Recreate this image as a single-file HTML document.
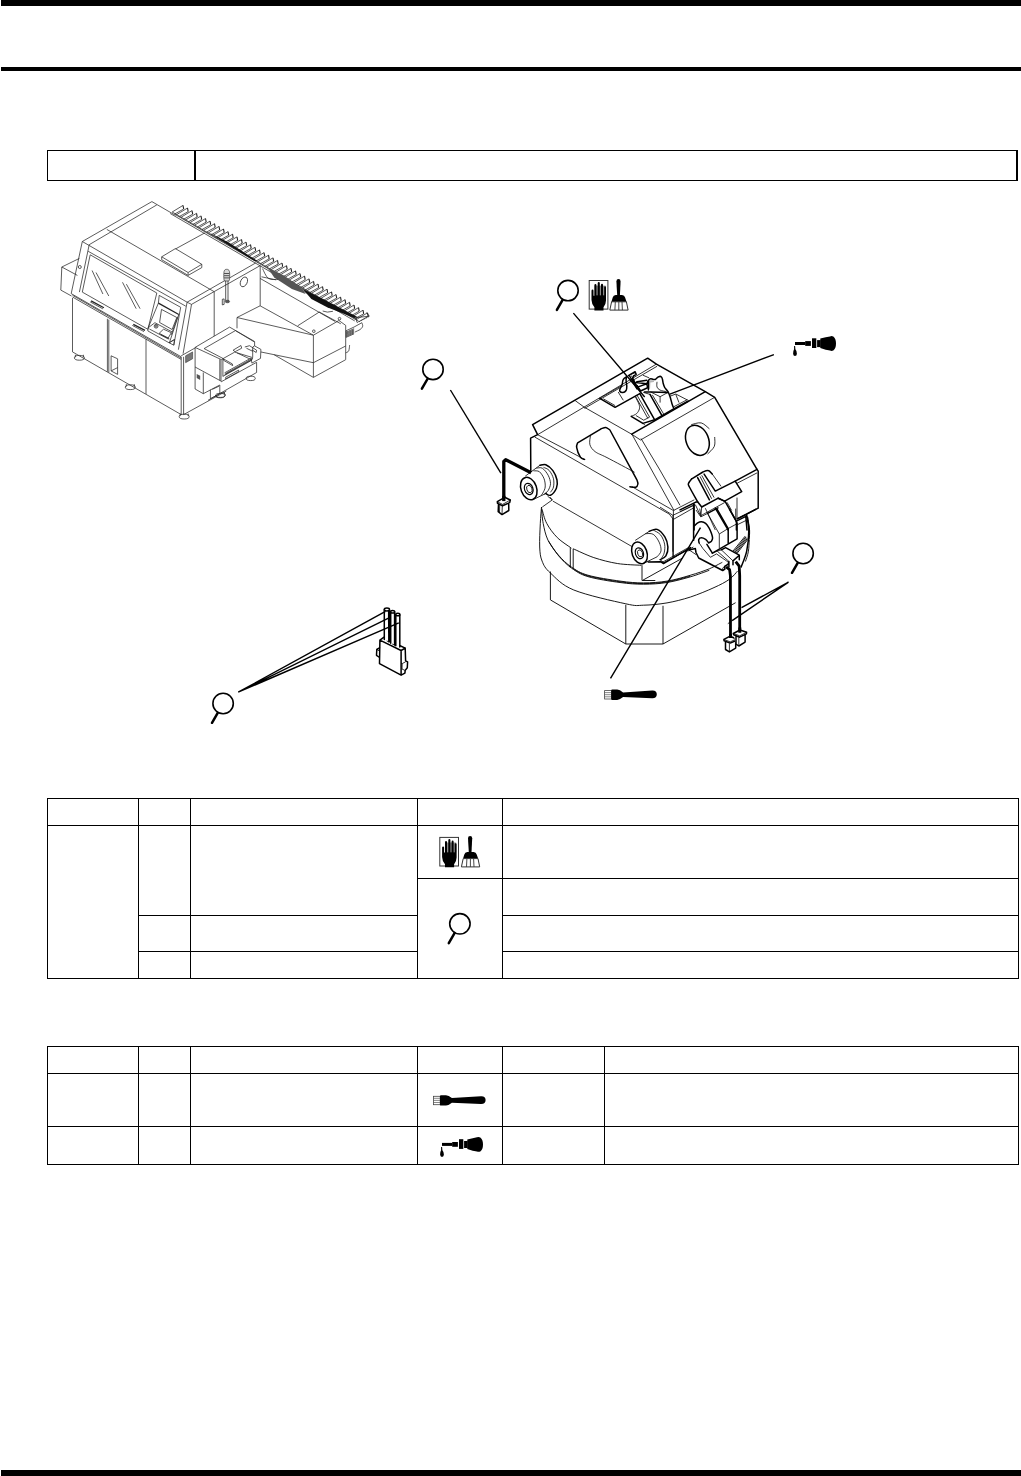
<!DOCTYPE html>
<html>
<head>
<meta charset="utf-8">
<title>Maintenance page</title>
<style>
html,body{margin:0;padding:0;background:#fff;}
body{width:1021px;height:1476px;position:relative;overflow:hidden;font-family:"Liberation Sans",sans-serif;}
svg{position:absolute;left:0;top:0;}
.k{stroke:#000;stroke-width:1.5;fill:none;stroke-linejoin:round;stroke-linecap:round}
.n{stroke:#000;stroke-width:0.8;fill:none;stroke-linejoin:round}
.g{stroke:#000;stroke-width:0.9;fill:none}
.l{stroke:#000;stroke-width:1.4;fill:none}
.m{stroke:#262626;stroke-width:0.75;fill:none}
.md{stroke:#222;stroke-width:0.75;fill:none}
.mk{stroke:#222;stroke-width:1.3;fill:none}
</style>
</head>
<body>
<svg width="1021" height="1476" viewBox="0 0 1021 1476">
<!-- page rules -->
<g shape-rendering="crispEdges" fill="#000">
<rect x="1" y="0" width="1020" height="6"/>
<rect x="1" y="67" width="1020" height="4"/>
<rect x="1" y="1470" width="1020" height="6"/>
</g>
<!-- title box -->
<g shape-rendering="crispEdges" fill="#000">
<rect x="47" y="150" width="971" height="1"/>
<rect x="47" y="180" width="971" height="1"/>
<rect x="47" y="150" width="1" height="31"/>
<rect x="194" y="150" width="2" height="31"/>
<rect x="1016" y="150" width="2" height="31"/>
</g>
<!-- table 1 -->
<g shape-rendering="crispEdges" fill="#000">
<rect x="47" y="798" width="972" height="1"/>
<rect x="47" y="825" width="972" height="1"/>
<rect x="417" y="878" width="602" height="1"/>
<rect x="138" y="915" width="280" height="1"/>
<rect x="502" y="915" width="517" height="1"/>
<rect x="138" y="951" width="280" height="1"/>
<rect x="502" y="951" width="517" height="1"/>
<rect x="47" y="978" width="972" height="1"/>
<rect x="47" y="798" width="1" height="181"/>
<rect x="138" y="798" width="1" height="181"/>
<rect x="190" y="798" width="1" height="181"/>
<rect x="417" y="798" width="1" height="181"/>
<rect x="502" y="798" width="1" height="181"/>
<rect x="1018" y="798" width="1" height="181"/>
</g>
<!-- table 2 -->
<g shape-rendering="crispEdges" fill="#000">
<rect x="47" y="1046" width="972" height="1"/>
<rect x="47" y="1073" width="972" height="1"/>
<rect x="47" y="1126" width="972" height="1"/>
<rect x="47" y="1164" width="972" height="1"/>
<rect x="47" y="1046" width="1" height="119"/>
<rect x="138" y="1046" width="1" height="119"/>
<rect x="190" y="1046" width="1" height="119"/>
<rect x="417" y="1046" width="1" height="119"/>
<rect x="502" y="1046" width="1" height="119"/>
<rect x="604" y="1046" width="1" height="119"/>
<rect x="1018" y="1046" width="1" height="119"/>
</g>
<path class="m" d="M175.4 215.3 L151.9 201.6 L82.3 241.5 L71.2 293.6 M156.8 204.9 L89.2 244.7 L79.4 292.1 M82.3 241.5 L187.1 302.2 L178.4 349.7 M88.2 251.3 L185.8 306.2 M191.5 304.4 L183.1 353.7 M187.1 302.2 L191.5 304.4 M106.8 229.4 L214.2 291.7 M187.1 302.2 L255.8 262.9 M191.5 304.4 L260.2 265.6 M90.2 254.8 L156.8 293 L147.9 329.3 L82.3 292.1Z M92.1 270.5 L102.9 294 M96 272.5 L108.8 296 M122.5 282.3 L136.2 308.7 M126.4 284.2 L140.1 308.7 M159.2 295.4 L180.7 307.3 L173.8 345.2 L169.1 342.8 M159.2 295.4 L158.4 303.1 L148.2 327.8 L147.8 330.9 L169.1 342.8 L174.5 339.5"/>
<path class="mk" d="M158.4 303.1 L178.8 314.5"/>
<path class="m" d="M178.8 314.5 L169.4 342.7 M177.6 316.8 L171.3 334.8"/>
<path class="md" d="M161.5 309.4 L176.8 317.5 L172.1 329.5 L159.6 322.5Z"/>
<path class="m" d="M148.2 327.8 L154.9 322.7 L172.1 331.9 M149.4 329 L168.6 339.2"/>
<circle cx="156.1" cy="326.2" r="1.9" class="md"/>
<circle cx="156.1" cy="326.2" r="0.9" class="md"/>
<path class="m" d="M159.2 333.3 L163.5 329.2 L171.3 332.7 L168.2 338Z M160.5 334.5 L169.4 338.9 M169.1 342.8 L174.5 339.5 L173.8 345.2 M79.4 258.4 L61.8 267 L60.8 290.1 L71.5 296 M61.8 267 L77.4 275.4"/>
<circle cx="79.8" cy="267.0" r="1.5" class="md"/>
<path class="md" d="M71.2 293.6 L181.2 356.8"/>
<path class="m" d="M72.5 297 L181.2 359.4 M72.5 295.3 L181.2 358.1"/>
<path class="mk" d="M91.1 300.9 L103.9 307.7 M133.3 324.4 L145 330.3"/>
<path class="m" d="M90.2 301.9 L102.9 308.9 M132.3 325.4 L144 331.6 M72.5 298 L72.5 351.9 L181.2 414.6 M181.2 356.8 L181.2 414.6 M183.6 356.8 L183.6 414.6 L226.3 391.1 M108.8 319.6 L108.8 372.5 M107.4 318.8 L107.4 371.7 M146 339.2 L146 394 M111.1 355.8 L117.6 358.8 L117.6 374.4 L111.1 370.9Z M111.1 370.9 L117.6 367.6"/>
<ellipse cx="79.4" cy="357.8" rx="5" ry="2.4" class="m"/>
<path class="m" d="M75.4 357.3 v-2.5 M83.4 357.3 v-2.5"/>
<ellipse cx="130.3" cy="387.2" rx="5" ry="2.4" class="m"/>
<path class="m" d="M126.3 386.7 v-2.5 M134.3 386.7 v-2.5"/>
<ellipse cx="184.2" cy="416.6" rx="5" ry="2.4" class="m"/>
<path class="m" d="M180.2 416.1 v-2.5 M188.2 416.1 v-2.5"/>
<ellipse cx="220.4" cy="395.0" rx="5" ry="2.4" class="m"/>
<path class="m" d="M216.4 394.5 v-2.5 M224.4 394.5 v-2.5"/>
<path class="m" d="M181.2 355.8 L195 348"/>
<path d="M185.6 355.8 L192.6 351.9 L192.6 358.8 L185.6 362.7Z" fill="#777" stroke="#222" stroke-width="0.5"/>
<path class="m" d="M214.2 292 L214.2 337 M260.2 265.6 L260.2 305.8"/>
<ellipse cx="243.9" cy="281.9" rx="3.3" ry="5.1" class="m" transform="rotate(25 243.9 281.9)"/>
<path class="m" d="M161.7 256.8 L175.4 248.6 L201.8 264.3 L188.1 272.5Z M161.7 256.8 L161.7 259.7 L188.1 275.4 L188.1 272.5 M188.1 275.4 L201.8 267.6 L201.8 264.3 M175.4 249 L204.8 232.9"/>
<path d="M224.1 271.3 C224.5 269.5 225.8 269.3 226.7 269.3 C227.6 269.3 228.9 269.5 229.4 271.3 C229.8 273.1 229.8 278.5 229.4 280.1 C228.9 281.7 227.6 281 226.7 281 C225.8 281 224.5 281.7 224.1 280.1 C223.6 278.5 223.6 273.1 224.1 271.3Z" fill="#d8d8d8" stroke="#222" stroke-width="0.6"/>
<path class="md" d="M224.1 273.5 L229.4 273.5 M224.1 275.7 L229.4 275.7 M224.1 277.9 L229.4 277.9 M225.7 280.7 L225.7 300.8 M228 280.7 L228 300.8 M222.3 299.3 L224.1 298.9 L224.1 304.4 L222.3 304.9Z"/>
<ellipse cx="227.4" cy="301.5" rx="2.2" ry="1.3" fill="#555" stroke="#222" stroke-width="0.5"/>
<path class="m" d="M260.1 278.4 L335 321.4 M260.1 305.8 L237 317.5 L237 328.3 M260.1 305.8 L313.4 335.2 M237 317.5 L313.4 335.2 L313.4 377.3 M313.4 335.2 L338.9 320.5 L345.7 325.4 L345.7 359.6 M297.7 325.8 L319.3 312 L340.8 323.8 M260.5 351.9 L313.4 362.7 L345.7 346 M274.2 354.8 L313.4 377.4 L345.7 359.7"/>
<circle cx="313.8" cy="331.2" r="1.3" class="md"/>
<circle cx="339.5" cy="318.7" r="1.3" class="md"/>
<path class="m" d="M345.8 330.9 L354.1 327 L361.9 322.7 M361.9 322.7 C362 323.3 362.9 325.1 362.7 326.2 C362.4 327.3 361.6 328.4 360.3 329.4 C359 330.3 355.8 331.6 354.8 332.1 M356.4 317.6 L369.3 316.2 L366.6 312.5 M356.4 317.6 L356.8 322.3"/>
<path class="m" stroke-dasharray="1.2 0.8" d="M357.2 322.7 L369.3 316.4"/>
<path class="md" d="M346.4 332.1 L354.1 328.7 M346.4 333.1 L354.1 329.8 M346.4 334.1 L354.1 330.8 M346.4 335.2 L354.1 331.8 M346.4 336.2 L354.1 332.8 M346.4 337.2 L354.1 333.8"/>
<path class="m" d="M346.2 330.9 L346.2 337.6 M332.9 311.3 L327.4 312.1 L322.7 311 M349.6 345.1 C349.5 346 349.3 349.6 348.7 350.9 C348 352.2 346.2 352.6 345.7 352.9"/>
<path d="M195.1 347.4 L229.6 327.1 L254.6 341.5 L260.9 349.4 L260.5 358.4 L256.6 362.3 L256.6 372.5 L210.4 398.4 L203.3 393.7 L195.1 389Z" fill="#fff" stroke="none"/>
<path class="m" d="M195.1 347.4 L229.6 327.1 L254.6 341.5 L254.6 345.9 M195.1 347.4 L221.3 359.6 M204.1 348.6 L235.4 330.6 L254.3 341.9 M204.1 348.6 L222.9 358.4 M195.1 347.4 L195.1 389 L203.3 393.7 L203.3 372.5 M195.1 367 L221 381.1 L221 360 M219.8 359.2 L219.8 380.3"/>
<path d="M196.7 374.1 L200.2 375.8 L200.2 379.9 L196.7 378.1Z" fill="#555" stroke="none"/>
<path class="m" d="M203.3 393.7 L219.8 385 M210.4 389.7 L210.4 398.7 L219.8 393.7 L219.8 385 M212.3 389.3 L219 386.2 M208 400.3 L256.6 372.5 L256.6 362.3 M221 381.9 L256.6 362.3"/>
<path class="md" d="M222.9 358.4 L222.9 376.4 L224.9 375.2"/>
<path class="m" d="M221.3 359.6 L234.7 352.1 L252.7 357.6 M225.7 377.2 L238.6 370.1 L238.6 371.7 L225.7 378.9 L225.7 377.2"/>
<path class="md" d="M233.1 350.2 L240.9 345.5 L241.7 348.2 M233.1 350.2 L235.1 351.7 L241.7 348.2 M244.8 347 L249.5 345.7 L256.6 350.2 L256.2 352.5 L251.9 349.8 M246.4 348.2 L252.7 351.3"/>
<path class="m" d="M254.6 345.9 L260.9 349.4 L260.5 358.4 L251.9 363.1 M254.6 345.9 L252.7 347 L252.7 357.6 M237 352.9 L250.3 359.2"/>
<path class="md" d="M223.3 358.8 L232.3 363.9 L232.7 365.6 L223.7 360.4Z"/>
<path class="md" d="M224.9 375.2 l1.2 -2.4 M225.9 374.7 l1.2 -2.4 M226.9 374.1 l1.2 -2.4 M227.9 373.5 l1.2 -2.4 M229.0 372.9 l1.2 -2.4 M230.0 372.4 l1.2 -2.4 M231.0 371.8 l1.2 -2.4 M232.0 371.2 l1.2 -2.4 M233.1 370.7 l1.2 -2.4 M234.1 370.1 l1.2 -2.4 M235.1 369.5 l1.2 -2.4 M236.1 368.9 l1.2 -2.4 M237.2 368.4 l1.2 -2.4 M238.2 367.8 l1.2 -2.4 M239.2 367.2 l1.2 -2.4 M240.2 366.7 l1.2 -2.4 M241.3 366.1 l1.2 -2.4 M242.3 365.5 l1.2 -2.4 M243.3 364.9 l1.2 -2.4 M244.3 364.4 l1.2 -2.4 M245.4 363.8 l1.2 -2.4 M246.4 363.2 l1.2 -2.4 M247.4 362.6 l1.2 -2.4 M248.4 362.1 l1.2 -2.4 M249.5 361.5 l1.2 -2.4 M250.5 360.9 l1.2 -2.4 M251.5 360.4 l1.2 -2.4"/>
<path class="m" d="M224.9 375.2 L251.5 360.4 M224.5 372.9 L251.1 358 L251.9 363.1"/>
<ellipse cx="220.2" cy="395.6" rx="4.6" ry="2.2" class="m"/>
<ellipse cx="250.7" cy="378.4" rx="4.6" ry="2.2" class="m"/>
<path class="md" d="M172.2 212.0 l10.8 -6.6 M183.7 209.0 l-8.8 4.9 M176.7 214.6 l10.8 -6.6 M188.2 211.6 l-8.8 4.9 M181.2 217.2 l10.8 -6.6 M192.7 214.2 l-8.8 4.9 M185.7 219.9 l10.8 -6.6 M197.2 216.9 l-8.8 4.9 M190.2 222.5 l10.8 -6.6 M201.7 219.5 l-8.8 4.9 M194.7 225.1 l10.8 -6.6 M206.2 222.1 l-8.8 4.9 M199.2 227.7 l10.8 -6.6 M210.7 224.7 l-8.8 4.9 M203.7 230.3 l10.8 -6.6 M215.2 227.3 l-8.8 4.9 M208.2 233.0 l10.8 -6.6 M219.7 230.0 l-8.8 4.9 M212.7 235.6 l10.8 -6.6 M224.2 232.6 l-8.8 4.9 M217.2 238.2 l10.8 -6.6 M228.7 235.2 l-8.8 4.9 M221.7 240.8 l10.8 -6.6 M233.2 237.8 l-8.8 4.9 M226.2 243.4 l10.8 -6.6 M237.7 240.4 l-8.8 4.9 M230.7 246.1 l10.8 -6.6 M242.2 243.1 l-8.8 4.9 M235.2 248.7 l10.8 -6.6 M246.7 245.7 l-8.8 4.9 M239.7 251.3 l10.8 -6.6 M251.2 248.3 l-8.8 4.9 M244.2 253.9 l10.8 -6.6 M255.7 250.9 l-8.8 4.9 M248.7 256.5 l10.8 -6.6 M260.2 253.5 l-8.8 4.9 M253.2 259.2 l10.8 -6.6 M264.7 256.2 l-8.8 4.9 M257.7 261.8 l10.8 -6.6 M269.2 258.8 l-8.8 4.9 M262.2 264.4 l10.8 -6.6 M273.7 261.4 l-8.8 4.9 M266.7 267.0 l10.8 -6.6 M278.2 264.0 l-8.8 4.9 M271.2 269.6 l10.8 -6.6 M282.7 266.6 l-8.8 4.9 M275.7 272.3 l10.8 -6.6 M287.2 269.3 l-8.8 4.9 M280.2 274.9 l10.8 -6.6 M291.7 271.9 l-8.8 4.9 M284.7 277.5 l10.8 -6.6 M296.2 274.5 l-8.8 4.9 M289.2 280.1 l10.8 -6.6 M300.7 277.1 l-8.8 4.9 M293.7 282.7 l10.8 -6.6 M305.2 279.7 l-8.8 4.9 M298.2 285.4 l10.8 -6.6 M309.7 282.4 l-8.8 4.9 M302.7 288.0 l10.8 -6.6 M314.2 285.0 l-8.8 4.9 M307.2 290.6 l10.8 -6.6 M318.7 287.6 l-8.8 4.9 M311.7 293.2 l10.8 -6.6 M323.2 290.2 l-8.8 4.9 M316.2 295.8 l10.8 -6.6 M327.7 292.8 l-8.8 4.9 M320.7 298.5 l10.8 -6.6 M332.2 295.5 l-8.8 4.9 M325.2 301.1 l10.8 -6.6 M336.7 298.1 l-8.8 4.9 M329.7 303.7 l10.8 -6.6 M341.2 300.7 l-8.8 4.9 M334.2 306.3 l10.8 -6.6 M345.7 303.3 l-8.8 4.9 M338.7 308.9 l10.8 -6.6 M350.2 305.9 l-8.8 4.9 M343.2 311.6 l10.8 -6.6 M354.7 308.6 l-8.8 4.9 M347.7 314.2 l10.8 -6.6 M359.2 311.2 l-8.8 4.9 M352.2 316.8 l10.8 -6.6 M363.7 313.8 l-8.8 4.9 M356.7 319.4 l10.8 -6.6 M368.2 316.4 l-8.8 4.9"/>
<path class="mk" style="stroke-width:1.1" d="M183.0 205.4 l0.7 3.6 M187.5 208.0 l0.7 3.6 M192.0 210.6 l0.7 3.6 M196.5 213.3 l0.7 3.6 M201.0 215.9 l0.7 3.6 M205.5 218.5 l0.7 3.6 M210.0 221.1 l0.7 3.6 M214.5 223.7 l0.7 3.6 M219.0 226.4 l0.7 3.6 M223.5 229.0 l0.7 3.6 M228.0 231.6 l0.7 3.6 M232.5 234.2 l0.7 3.6 M237.0 236.8 l0.7 3.6 M241.5 239.5 l0.7 3.6 M246.0 242.1 l0.7 3.6 M250.5 244.7 l0.7 3.6 M255.0 247.3 l0.7 3.6 M259.5 249.9 l0.7 3.6 M264.0 252.6 l0.7 3.6 M268.5 255.2 l0.7 3.6 M273.0 257.8 l0.7 3.6 M277.5 260.4 l0.7 3.6 M282.0 263.0 l0.7 3.6 M286.5 265.7 l0.7 3.6 M291.0 268.3 l0.7 3.6 M295.5 270.9 l0.7 3.6 M300.0 273.5 l0.7 3.6 M304.5 276.1 l0.7 3.6 M309.0 278.8 l0.7 3.6 M313.5 281.4 l0.7 3.6 M318.0 284.0 l0.7 3.6 M322.5 286.6 l0.7 3.6 M327.0 289.2 l0.7 3.6 M331.5 291.9 l0.7 3.6 M336.0 294.5 l0.7 3.6 M340.5 297.1 l0.7 3.6 M345.0 299.7 l0.7 3.6 M349.5 302.3 l0.7 3.6 M354.0 305.0 l0.7 3.6 M358.5 307.6 l0.7 3.6 M363.0 310.2 l0.7 3.6 M367.5 312.8 l0.7 3.6"/>
<path class="md" d="M172.2 212 L356.7 319.4"/>
<path class="m" d="M174.6 214.2 L359.1 321.6 M170.2 213.5 L354.7 320.9"/>
<path d="M208.6 232.3 L229.2 242.7 L257.6 261.1 L254.6 261.1 L229.2 245.4Z" fill="#111" stroke="none"/>
<path d="M267.4 267.6 L284 275.4 L302.6 289.1 L305.6 294 L291.9 289.1 L274.2 277.4Z" fill="#555" stroke="none"/>
<path d="M302.6 289.1 L323.2 298.9 L357.5 317.1 L354.5 317.9 L327.1 307.3 L311.4 298.9Z" fill="#111" stroke="none"/>
<path class="m" d="M262.5 268.6 C263.5 270.2 265.7 276.6 268.4 278.4 C271 280.2 276.5 279.2 278.1 279.3 M261.5 276.8 L276.2 279.9"/>
<path class="k" d="M647.7 358.2 L532.6 424.7 L537.6 434.7 L530.6 438.2 L530.8 471.5 M647.7 358.2 L656.4 364.1 L705.3 391.7 L714.7 397.3 L757 469.4 L758.2 471.1 L758.2 508.2 L737.6 518.7"/>
<path class="n" d="M537.6 434.7 L656.4 364.1 M584.5 408.4 L657 366.3 M575.2 400.6 L584.1 407.1 M584.1 407.1 L631.7 434.2 L640.5 440"/>
<path class="k" d="M631.7 434.2 L705.3 391.7"/>
<path class="n" d="M640.5 440 L714.7 397.3 M632 434.4 L674 510.5 M641 438.5 L659.9 470 L680 505.3 M537.6 434.7 L584.6 459.4 M631.7 486.5 L673.4 510.5 M534.7 437 L669.3 514.1 L673.4 519.4 L673.4 557 M673.4 510.5 L673.4 519.4 M673.4 510.5 L694.3 499.8 M673.4 519.4 L694.3 507.5"/>
<path class="k" d="M584.6 459.4 C584 459 581.9 459.3 580.5 457.4 C579.2 455.4 577.1 450 576.7 447.6 C576.2 445.2 577.4 443.7 577.6 442.9 M577.6 442.9 L601.1 428.8 M601.1 428.8 C601.9 428.6 604.3 427.2 605.8 427.4 C607.3 427.6 609.2 429.5 609.9 430 M609.9 430 L636.9 479.9 M636.9 479.9 C637.1 480.6 638.1 482.8 637.9 484 C637.7 485.2 637.1 486.8 635.8 487.2 C634.4 487.7 630.9 486.8 629.9 486.7"/>
<path class="n" d="M590.5 435.3 C590.4 436.8 589.1 441.9 589.9 444.7 C590.7 447.4 592.4 449.6 595.2 451.7 C598.1 453.9 600.4 454.2 607 457.6 C613.5 461 630 469.8 634.6 472.3"/>
<g transform="translate(528.8,488.6) rotate(-20)"><ellipse rx="7.8" ry="11.6" class="k" fill="#fff"/><ellipse rx="4.2" ry="5.8" cx="-0.2" cy="0.3" class="k" style="stroke-width:1.2"/><ellipse rx="2.6" ry="3.8" cx="0.4" cy="0.6" class="n"/></g>
<path class="n" d="M525.2 476.2 L539.9 465.3 M533.5 499.4 L545.8 493.5"/>
<path class="k" d="M539.9 465.3 C540.9 465.2 543.7 463.8 545.8 464.7 C548 465.6 551 468 552.9 470.6 C554.7 473.1 556.4 477 557 480 C557.6 482.9 557.5 485.6 556.4 488.2 C555.3 490.7 552.3 494.4 550.5 495.2 C548.8 496.1 546.6 493.8 545.8 493.5"/>
<path class="n" d="M536.4 468.2 C537.4 468.2 540.3 467 542.3 468.2 C544.3 469.4 546.8 472.7 548.2 475.3 C549.5 477.8 550.5 480.9 550.5 483.5 C550.5 486 549.2 488.7 548.2 490.5 C547.1 492.3 544.7 493.7 544.1 494.3 M543.5 467.3 C544.4 467.8 547.7 468.6 549.3 470.6 C551 472.5 552.8 476 553.5 478.8 C554.1 481.5 553.9 484.8 553.5 487 C553 489.3 551 491.4 550.5 492.3 M533.5 470.8 C534.5 471 537.6 470.4 539.4 471.7 C541.1 473.1 543.1 476.2 544.1 478.8 C545 481.3 545.4 484.7 545.2 487 C545 489.4 543.6 491.5 542.9 492.9 C542.2 494.3 541.4 494.8 541.1 495.2"/>
<path d="M503.8 500.5 L503.8 461.5 L505.7 459.7 L531.1 472.8" fill="none" stroke="#000" stroke-width="3.3" stroke-linejoin="round"/>
<path d="M497.3 501.7 L504.7 497.3 L510.3 500 L508.8 510.5 L502 514.6 L498.2 511.7Z" fill="#fff" stroke="none"/>
<path class="k" d="M497.3 501.7 L504.7 497.3 L510.3 500 L509.7 502.6 L502.6 505.8 L497.5 503.4Z M498.5 504.1 L498.2 511.7 L502 514.6 L508.8 510.5 L508.7 503.2"/>
<path class="n" d="M502.3 505.9 L502 514.6 M497.3 501.7 L502.6 504.4 L510.3 500 M499.7 504.9 L499.5 512.3"/>
<path d="M503.8 495.8 L503.8 501.1" fill="none" stroke="#000" stroke-width="3.3"/>
<path class="l" d="M450.4 390 L500.9 473.2"/>
<path class="n" d="M552.9 501.1 L631.7 546.4 M547.6 496.2 L552.3 499.9 L542.3 507 M549.9 497 L552.3 499.9"/>
<path class="g" d="M541.5 507.1 C541.8 509.8 542.1 518 543.2 523.5 C544.3 529 545.4 534.7 547.9 540 C550.5 545.2 554.6 550.7 558.5 555.2 C562.4 559.7 566.5 563.7 571.4 567 C576.3 570.3 579.8 572.9 587.9 575.2 C596 577.6 610.7 579.8 620 581.1 C629.3 582.4 635.7 582.9 643.5 582.9 C651.3 582.9 659.2 582.4 667 581.1 C674.8 579.9 683.5 577.3 690.5 575.2 C697.6 573.2 704 570.9 709.3 568.8 C714.6 566.6 720.1 563.4 722.3 562.3 M548.5 541.1 C550.3 543.7 555.2 551.9 559.1 556.4 C563 560.9 566.9 564.8 571.7 568.2 C576.5 571.5 579.8 574.2 587.9 576.6 C595.9 579 610.7 581.3 620 582.5 C629.3 583.8 635.7 584.2 643.5 584.2 C651.3 584.2 659.2 583.8 667 582.5 C674.8 581.3 683.5 578.8 690.5 576.8 C697.6 574.7 706.2 571.4 709.3 570.3 M573.8 569.3 C576.1 570.4 580.2 573.8 587.9 575.9 C595.6 578 610.7 580.6 620 581.8 C629.3 583.1 635.7 583.6 643.5 583.6 C651.3 583.6 659.2 583.1 667 581.8 C674.8 580.6 686.6 577 690.5 576.1 M542.1 509.4 C542.8 511.8 544.2 518.8 546.8 523.5 C549.3 528.2 553.2 533.5 557.3 537.6 C561.4 541.7 569.1 546.4 571.4 548.2 M570.3 547.6 L570.3 567.6 M573.2 548.8 L573.2 569.3 M573.2 548.8 C576.6 550.2 586.4 555.1 593.8 557.6 C601.1 560 609.3 562.2 617.3 563.5 C625.2 564.8 637.4 565 641.4 565.3 M642 565.2 L642 580.5 M642.3 580.5 L655.3 580.5 M642.3 580.5 L682.3 558.2"/>
<path class="k" d="M648.2 562 L660.5 561.7 L663.5 563.5 L690.5 547.6"/>
<path class="g" d="M541.5 507.1 C541.3 509.8 540.6 516.8 540.3 523.5 C540 530.2 539.4 540.7 539.7 547 C540 553.3 540.3 556.8 542.1 561.1 C543.8 565.4 545 568.1 550.3 572.9 C555.6 577.7 561.2 584.9 573.8 590 C586.4 595.2 614.2 601.3 625.8 603.8 C637.4 606.4 636.6 605.4 643.5 605.2 C650.4 605.1 659.2 604.2 667 602.9 C674.8 601.5 682.7 599.5 690.5 597 C698.4 594.4 707.6 590.5 714 587.6 C720.5 584.7 725.4 582.1 729.3 579.4 C733.2 576.6 736.2 572.5 737.5 571.1 M745.4 561.5 C745.9 559.9 747.7 555.3 748.3 551.8 C749 548.2 749.1 542 749.3 540 M747 515.3 C747.4 517.6 749 525.3 749.3 529.4 C749.7 533.5 749 538.2 749 540 M550.4 571.5 L550.4 599.9 L625.8 644 L663 644 L735.6 602.7 M625.8 604.8 L625.8 644 M663 605.8 L663 644"/>
<path class="k" d="M757 469.4 L735.2 481.1 L715.3 491.1 L704.1 474.1 M697.6 501.7 C696.3 499.3 690.9 490 689.4 487 C687.9 484 688.1 484.9 688.5 483.5 C688.9 482.1 691.2 479.6 691.8 478.8 M691.8 478.8 L702.9 472 M702.9 472 C703.8 471.7 706.6 470.2 708.2 470.6 C709.8 470.9 711.6 473.5 712.3 474.1"/>
<path class="n" d="M712.3 474.1 L721.1 486.4"/>
<path class="k" d="M697.6 477.6 L709.4 499.9"/>
<path class="n" d="M701.7 475.3 L714.1 497.6 M700 476.4 L711.7 498.8"/>
<path class="k" d="M735.2 481.1 L741.7 491.7 L724.7 501.1 L718.2 498.2 L701.7 507 L697.6 501.7 L695.3 502.3 L680 509.9"/>
<path class="n" d="M695.3 504.6 L700.6 515.8 L724.7 502.5 M701.7 507 L700.9 515.2"/>
<path class="k" d="M694.1 504.1 L694.1 530 M718.2 498.2 L725.2 501.7 L736.4 521.1 L736.4 530 M715.3 508.2 L728.2 530"/>
<path class="n" d="M705.3 508.2 L715.3 530 M737 497.6 L737 518.7 M727 502.3 L731.7 510.5 M757 472.9 L737 483.3"/>
<path class="k" d="M736.4 521.1 L745.8 516.4 L747 530"/>
<path class="n" d="M680 511.7 L694.1 504.6"/>
<path class="k" d="M693.6 504.5 L693.6 540.2"/>
<path class="n" d="M660 507.1 L672.9 515.3 L694.1 505.3 M672.9 515.3 L672.9 551.7 M660 561.1 L662.4 562.3 L689.4 547 M696 510 L700.8 516.9 L707.6 513.4 M699.7 508.6 L701.1 516.5"/>
<path class="k" d="M707.6 513.4 L717.9 507.9 M717.2 509.3 L728.2 528.5 L728.2 543.6 M729.6 509.3 L737.1 523 L737.1 538.8 L712.4 553.1"/>
<path class="n" d="M728.2 528.5 L737.1 523.7 M707.6 513.4 L719.3 534 L728.2 528.5 M719.3 534 L719.3 548.4 M735.7 508.6 L735.7 518.6"/>
<path class="k" d="M737.1 518.9 L746.7 514.1 L755.6 509.3"/>
<path class="n" d="M737.4 524.7 L746.4 520.3"/>
<path class="k" d="M694.6 525.6 C695.1 525.2 696.5 523.5 697.7 522.8 C698.8 522.2 700.1 521.7 701.5 521.8 C702.8 521.9 704.3 522.4 705.6 523.4 C706.8 524.4 708 526.2 709 527.8 C710 529.5 710.8 531.6 711.4 533.3 C712 535 712.6 536.8 712.6 538.1 C712.6 539.4 712 540.4 711.4 541.2 C710.7 542 709.1 542.6 708.7 542.9 M708.7 542.9 C708.1 542.3 706.8 540.2 705.6 539.3 C704.3 538.5 702.3 537.7 701.1 537.8 C700 537.8 699.1 538.8 698.7 539.6 C698.4 540.5 699 542.4 699.1 542.9"/>
<path class="n" d="M699.1 542.9 L702.8 548.4 L710.4 557.3"/>
<path class="k" d="M706.9 544.3 L712.4 553.1 M695.3 548.4 L696 552.5 L698.7 558 L722.7 570.5 L724.9 569.1 L724.6 566.4 L728.3 564.2 M689.1 549.9 L695.3 548.4"/>
<path class="n" d="M689.1 549.9 L696 554.6 M685 551.3 L689.8 550.5 M710.4 557.3 L716.5 553.9 L728.3 562.2 M712.4 553.1 L717.2 551.1 L728.9 561.4"/>
<path class="k" d="M728.3 564.2 L728.9 561.4 L728.9 566.9"/>
<path class="n" d="M722.7 570.5 L722.8 567.9 L728.3 564.2"/>
<path class="k" d="M721.3 549.8 L725.6 547.6 L739.3 555.2 L739.3 559.7 M733 560.9 L739.3 555.2 M733 560.9 L733 564.8"/>
<path class="n" d="M721.3 549.8 L733 560.9 M717.2 551.1 L721.3 549.8"/>
<path class="g" d="M733 551 L745.2 536.1 M734 551.7 L745.9 536.9 M734.9 552.4 L746.6 537.7 M735.9 553.1 L747.3 538.5 M736.8 553.7 L747.9 539.3"/>
<path class="k" d="M746.4 514.8 C746.8 517.4 748.7 524.5 748.8 530.6 C748.8 536.6 748 545.1 746.7 551.1 C745.4 557.2 742.1 564.3 741.2 566.9"/>
<path class="g" d="M747.7 516.9 C748 519.1 749.4 526.9 749.6 530.6 C749.8 534.2 749.2 537.4 749.1 538.8"/>
<path d="M726.1 566.9 L729.6 569.6 L730.4 575.8 L730.5 637 M735.7 561.6 L739.2 566.2 L739.7 575.8 L739.7 632" fill="none" stroke="#000" stroke-width="2.8" stroke-linejoin="round"/>
<path d="M723.9 639.4 L730.2 636.2 L736.4 639 L735.7 648.1 L729.4 651.9 L725.5 649.5Z" fill="#fff" stroke="none"/>
<path class="k" d="M723.9 639.4 L730.2 636.2 L736.4 639 L736.2 640.5 L730.2 643.1 L724.1 640.8Z M725.5 641.3 L725.5 649.5 L729.4 651.9 L735.7 648.1 L735.7 640.8"/>
<path class="n" d="M729.4 643.4 L729.4 651.9 M723.9 639.4 L730.2 641.9 L736.4 639"/>
<path d="M733.3 633.5 L740 630 L746.6 632.3 L745.1 642.1 L738.8 646 L736 644.1Z" fill="#fff" stroke="none"/>
<path class="k" d="M733.3 633.5 L740 630 L746.6 632.3 L746.4 633.9 L739.6 637.2 L733.7 634.8Z M736 636.2 L736 644.1 L738.8 646 L745.1 642.1 L745.1 634.5"/>
<path class="n" d="M738.8 637.6 L738.8 646 M733.3 633.5 L739.7 635.8 L746.6 632.3"/>
<path d="M730.5 633.9 L730.5 638 M739.8 627.6 L739.8 632.7" fill="none" stroke="#000" stroke-width="3"/>
<path class="l" d="M788.5 582.1 L741.5 607.6 M788.5 582.1 L732.1 620.6"/>
<path class="n" d="M732.1 620.6 L727.8 623.7"/>
<path class="l" d="M700.5 527.6 L610.5 678.4 M573.4 313.1 L644.7 397 M773.9 354.6 L669.9 394.1"/>
<g transform="translate(639.5,552.9) rotate(-20)"><ellipse rx="7.4" ry="11.2" class="k" fill="#fff"/><ellipse rx="4" ry="5.6" cx="-0.2" cy="0.3" class="k" style="stroke-width:1.2"/><ellipse rx="2.4" ry="3.6" cx="0.4" cy="0.6" class="n"/></g>
<path class="n" d="M635.2 540.4 L649.3 531.3 M643 563.7 L657.1 556.8"/>
<path class="k" d="M649.3 531.3 C650.6 531 654.5 528.4 657.1 529.4 C659.7 530.4 663.2 534.3 665 537.2 C666.8 540.2 667.7 543.9 667.9 547 C668.1 550.1 667.2 553.7 665.9 555.8 C664.6 557.9 661 559.1 660.1 559.7"/>
<path class="n" d="M645.4 533.7 C646.7 533.8 650.9 532.9 653.2 534.3 C655.5 535.7 657.8 539.3 659.1 542.1 C660.4 544.9 661.4 548.5 661 550.9 C660.7 553.4 657.8 555.8 657.1 556.8 M653.2 530 C654.4 530.8 658.8 532.5 660.6 534.9 C662.5 537.2 664 541.1 664.6 544.1 C665.2 547.1 664.7 550.5 664.2 552.9 C663.7 555.3 661.9 557.5 661.4 558.4"/>
<g transform="translate(697.4,440.3) rotate(-22)"><ellipse rx="11.2" ry="15.6" class="k" fill="none"/></g>
<path class="n" d="M691.2 424.7 C692.8 424.4 698.1 422.2 701.2 422.9 C704.2 423.6 708 427.8 709.4 428.8 M714.7 437 C714.6 438.6 715.5 443.6 714.3 446.4 C713.1 449.2 708.7 452.8 707.6 454 M672.8 518.6 L672.8 556.8 M693.4 547 L664 562.7 L660.1 559.7"/>
<path class="k" d="M599.8 398.3 L615.1 407.3 L639.8 393.6"/>
<path class="n" d="M599.8 398.3 L622 385.5 M603.3 398.8 L615.1 405.6 M618.2 392 L623.3 400.3"/>
<path class="k" d="M626.5 376.8 C625.9 377.2 623.9 378.4 623.2 379.7 C622.4 381 622.6 383.1 622.1 384.6 C621.6 386.1 620.6 387.4 620.2 388.5 C619.8 389.6 619.3 390.6 619.8 391.2 C620.3 391.9 621.9 392.7 622.9 392.6 C624 392.5 625.4 391.5 626.1 390.5 C626.7 389.4 626.8 387.8 626.8 386.2 C626.8 384.5 626.1 382.2 626.1 380.7 C626 379.1 626.4 377.4 626.5 376.8 M628.4 375.6 L635.1 371.7 L636.2 374.4 L633.5 376 L632.7 378.3 L634.3 381.5 L635.9 384.6 L640.2 391.2 M629.6 376 L637 388.9"/>
<path class="n" d="M631.3 375.6 L633.5 379.5 L638.6 389.3 M630 374.6 L635.1 372.8"/>
<path class="k" d="M639.8 393.6 L654.7 419.8"/>
<path class="n" d="M637 395.2 L649.6 417.1 M635.5 396.3 L647.8 418.3 M635.5 397.1 C636.1 398.3 638.3 402.2 639 404.2 C639.6 406.1 639.8 407.3 639.4 408.9 C639 410.4 638 412.3 636.6 413.6 C635.3 414.8 632.1 415.9 631.2 416.3"/>
<path class="k" d="M631.2 416.3 L642.9 423.4 L654.7 419.8 L673.6 408.9"/>
<path class="n" d="M649.6 417.1 L643.7 420.2 L635.9 415.5 M642.9 423.4 L644.9 424.9"/>
<path class="k" d="M637 381.8 L646.8 380.3 M638.2 386.9 L646.8 383.8 L647.6 387.7 L640.6 391 L637 385.5Z M635.9 382.6 L646.8 383.8"/>
<path class="n" d="M642.9 375.2 L649.2 377.9"/>
<path d="M649.2 380.3 L653.9 380.3 L653.9 382.1 L650.4 382.4 L650.1 388.5 L648.8 389.3 L648.6 381.8Z" fill="#b5b5b5" stroke="none"/>
<path class="k" d="M646.8 383.8 C647.1 383.3 647.6 381.5 648.2 380.7 C648.8 379.8 649.5 378.9 650.4 378.7 C651.2 378.5 652.2 379.1 653.1 379.3 C653.9 379.4 655.1 379.5 655.4 379.5 M655.4 379.5 C656 379 657.6 377.2 658.6 376.8 C659.6 376.3 660.7 376.3 661.3 376.8 C662 377.2 662.2 378.3 662.5 379.5 C662.8 380.7 662.9 382.4 663.3 383.8 C663.7 385.2 664.1 386.4 664.8 387.7 C665.6 389 667.1 390.2 668 391.6 C668.8 393.1 669.3 394.4 669.9 396.3 C670.6 398.3 671.3 401.5 671.9 403.4 C672.5 405.3 673.2 407 673.5 407.7 M648.4 381.1 L648.4 390.1"/>
<path class="n" d="M657 381.8 C657 382.7 656.5 385.6 657 386.9 C657.5 388.3 658.6 389.3 660.1 390.1 C661.7 390.9 665.4 391.4 666.4 391.6"/>
<path class="k" d="M644.5 392 L650.7 392 L668 392.4"/>
<path class="n" d="M668 392.4 L660.1 396.7 L660.1 402.6"/>
<path class="k" d="M650 394.4 L662.1 415.9"/>
<path class="n" d="M652.3 394.8 L664.1 414.8 M650.7 392 L660.1 396.7 M643.3 392.4 L650 394.4 M675.8 394 L687.2 399.9 M675.8 394.4 L679 402.6 M669.9 396.3 L675.8 394 M673.9 406.7 L687.6 399.5"/>
<path class="k" d="M674.3 408.6 L688.4 401"/>
<path class="l" d="M238.2 692.2 L385.5 611.4 M238.2 692.2 L388.5 618.1 M238.2 692.2 L398.8 622.9"/>
<path d="M379.9 640.2 L383.3 637.5 L405.2 648.1 L405.6 660.8 L407.6 661.8 L407.3 667.7 L404.9 673.2 L401.1 675.2 L379.5 663.6Z" fill="#fff" stroke="none"/>
<path class="k" d="M379.9 640.2 L401.1 650.5 L401.1 675.2 L379.5 663.6Z M379.9 640.2 L383.7 637.4 M400.1 645.7 L405.2 648.1 L401.1 650.5 M405.2 648.1 L405.6 660.8 L407.6 661.8 L407.3 667.7 L405.2 670.4 L404.9 673.2 L401.1 675.2"/>
<path class="n" d="M401.1 663.2 L402.2 663.6 L405.6 661.8 M402.2 663.6 L402 669 L404.9 670.4"/>
<path class="k" d="M379.5 647.8 L376.8 649.5 L376.5 655.3 L378.9 657"/>
<path class="n" d="M376.8 649.5 L379.2 650.9"/>
<path class="k" d="M384.3 609.7 L384.3 639.6"/>
<path d="M389.1 610.2 L389.3 642.3" fill="none" stroke="#000" stroke-width="2.4"/>
<path class="k" d="M390.7 612.1 L390.7 643.3 M394.6 612.1 L394.6 645 M395.8 614.9 L395.8 645.7 M399.8 614.9 L399.8 647.1"/>
<ellipse cx="386.9" cy="609.4" rx="2.6" ry="1.5" class="k" fill="#fff"/>
<ellipse cx="392.6" cy="611.8" rx="2.1" ry="1.3" class="k" fill="#fff"/>
<ellipse cx="397.8" cy="614.5" rx="2.1" ry="1.3" class="k" fill="#fff"/>
<path class="n" d="M386.7 640.9 L389.5 642.3 M392.2 644 L394.6 645"/>
<g>
<rect x="439.8" y="837.4" width="18.7" height="28.6" fill="#fff" stroke="#333" stroke-width="1"/>
<rect x="445.2" y="842.5" width="11" height="10" fill="#8a8a8a"/>
<path fill="#000" d="M445 867.3 L445 864.2 Q442.3 861.5 442.1 857 L442.1 847.6 Q442.2 846.4 443.1 846.4 Q444.1 846.4 444.1 847.6 L444.1 852.6 L445 852.6 L445 842 Q445.1 840.9 446 840.9 Q447 840.9 447 842 L447 852.2 L448.3 852.2 L448.3 840.2 Q448.4 839 449.4 839 Q450.4 839 450.4 840.2 L450.4 852.2 L451.6 852.2 L451.6 841.7 Q451.7 840.6 452.6 840.6 Q453.6 840.6 453.6 841.7 L453.6 852.2 L454.8 852.2 L454.8 844.3 Q454.9 843.2 455.7 843.2 Q456.6 843.2 456.6 844.3 L456.6 857.5 Q456.5 861.8 454.1 864.2 L454.1 867.3 Z"/>
</g>
<g>
<path fill="#000" d="M468 838.2 Q468 835.9 470.1 835.9 Q472.2 835.9 472.2 838.2 L471.5 852.4 L468.8 852.4 Z"/>
<path fill="#000" d="M464.3 854.4 Q464.9 851.9 467.3 851.9 L473.6 851.9 Q476.1 851.9 476.7 854.4 L478.2 858.8 L463 858.8 Z"/>
<path fill="#fff" stroke="#333" stroke-width="1" d="M463.2 858.6 L478 858.6 L479.7 866.9 L461.4 866.9 Z"/>
<path fill="none" stroke="#333" stroke-width="0.9" d="M466.9 858.6 L466.5 866.9 M470.4 858.6 L470.4 866.9 M473.6 858.6 L474 866.9"/>
</g>
<g transform="translate(149.4,-556.9)">
<rect x="439.8" y="837.4" width="18.7" height="28.6" fill="#fff" stroke="#333" stroke-width="1"/>
<rect x="445.2" y="842.5" width="11" height="10" fill="#8a8a8a"/>
<path fill="#000" d="M445 867.3 L445 864.2 Q442.3 861.5 442.1 857 L442.1 847.6 Q442.2 846.4 443.1 846.4 Q444.1 846.4 444.1 847.6 L444.1 852.6 L445 852.6 L445 842 Q445.1 840.9 446 840.9 Q447 840.9 447 842 L447 852.2 L448.3 852.2 L448.3 840.2 Q448.4 839 449.4 839 Q450.4 839 450.4 840.2 L450.4 852.2 L451.6 852.2 L451.6 841.7 Q451.7 840.6 452.6 840.6 Q453.6 840.6 453.6 841.7 L453.6 852.2 L454.8 852.2 L454.8 844.3 Q454.9 843.2 455.7 843.2 Q456.6 843.2 456.6 844.3 L456.6 857.5 Q456.5 861.8 454.1 864.2 L454.1 867.3 Z"/>
</g>
<g transform="translate(148.4,-556.8)">
<path fill="#000" d="M468 838.2 Q468 835.9 470.1 835.9 Q472.2 835.9 472.2 838.2 L471.5 852.4 L468.8 852.4 Z"/>
<path fill="#000" d="M464.3 854.4 Q464.9 851.9 467.3 851.9 L473.6 851.9 Q476.1 851.9 476.7 854.4 L478.2 858.8 L463 858.8 Z"/>
<path fill="#fff" stroke="#333" stroke-width="1" d="M463.2 858.6 L478 858.6 L479.7 866.9 L461.4 866.9 Z"/>
<path fill="none" stroke="#333" stroke-width="0.9" d="M466.9 858.6 L466.5 866.9 M470.4 858.6 L470.4 866.9 M473.6 858.6 L474 866.9"/>
</g>
<g>
<rect x="433.4" y="1096.3" width="6.8" height="8.4" fill="#fff" stroke="#444" stroke-width="0.8"/>
<path fill="none" stroke="#555" stroke-width="0.7" d="M433.4 1098.3 H440 M433.4 1100.4 H440 M433.4 1102.5 H440"/>
<path fill="#000" d="M440 1096 Q440 1095.3 441 1095.3 L446 1095.3 Q448.6 1095.5 451.9 1098.1 L481 1096.2 Q485.6 1096 485.6 1100 Q485.6 1104 481 1103.9 L451.9 1102.7 Q448.6 1105.4 446 1105.6 L441 1105.6 Q440 1105.6 440 1104.9 Z"/>
</g>
<g transform="translate(171.2,-405.7)">
<rect x="433.4" y="1096.3" width="6.8" height="8.4" fill="#fff" stroke="#444" stroke-width="0.8"/>
<path fill="none" stroke="#555" stroke-width="0.7" d="M433.4 1098.3 H440 M433.4 1100.4 H440 M433.4 1102.5 H440"/>
<path fill="#000" d="M440 1096 Q440 1095.3 441 1095.3 L446 1095.3 Q448.6 1095.5 451.9 1098.1 L481 1096.2 Q485.6 1096 485.6 1100 Q485.6 1104 481 1103.9 L451.9 1102.7 Q448.6 1105.4 446 1105.6 L441 1105.6 Q440 1105.6 440 1104.9 Z"/>
</g>
<g>
<rect x="442" y="1142.9" width="10.4" height="3" fill="#000"/>
<rect x="452.2" y="1142" width="5.7" height="4.8" fill="#000"/>
<rect x="459" y="1139.2" width="4.3" height="9.7" fill="#000"/>
<rect x="464.1" y="1141" width="3.6" height="7" fill="#000"/>
<path fill="#000" d="M467.3 1139.5 L472.7 1138.2 L477 1137.3 Q478.6 1136.5 480.3 1137.4 Q483 1139.6 483 1144.4 Q483 1149.2 480.3 1151.4 Q478.6 1152.2 477 1151.5 L472.7 1150.7 L467.3 1148.9 Z"/>
<path fill="#000" d="M441.1 1147 L441.1 1150.2 Q440 1152 440.1 1154.6 Q440.3 1157 442 1157 Q443.8 1157 443.9 1154.6 Q444 1152 442.4 1150.2 L442.1 1147 Z"/>
</g>
<g transform="translate(353,-800.9)">
<rect x="442" y="1142.9" width="10.4" height="3" fill="#000"/>
<rect x="452.2" y="1142" width="5.7" height="4.8" fill="#000"/>
<rect x="459" y="1139.2" width="4.3" height="9.7" fill="#000"/>
<rect x="464.1" y="1141" width="3.6" height="7" fill="#000"/>
<path fill="#000" d="M467.3 1139.5 L472.7 1138.2 L477 1137.3 Q478.6 1136.5 480.3 1137.4 Q483 1139.6 483 1144.4 Q483 1149.2 480.3 1151.4 Q478.6 1152.2 477 1151.5 L472.7 1150.7 L467.3 1148.9 Z"/>
<path fill="#000" d="M441.1 1147 L441.1 1150.2 Q440 1152 440.1 1154.6 Q440.3 1157 442 1157 Q443.8 1157 443.9 1154.6 Q444 1152 442.4 1150.2 L442.1 1147 Z"/>
</g>
<g transform="translate(459.9,923.8)">
<circle cx="0" cy="0" r="10.2" fill="none" stroke="#000" stroke-width="1.6"/>
<path d="M-5.5 9.6 L-11.1 19.3" stroke="#000" stroke-width="2.5" stroke-linecap="round" fill="none"/>
</g>
<g transform="translate(568.0,290.6)">
<circle cx="0" cy="0" r="10.2" fill="none" stroke="#000" stroke-width="1.6"/>
<path d="M-5.5 9.6 L-11.1 19.3" stroke="#000" stroke-width="2.5" stroke-linecap="round" fill="none"/>
</g>
<g transform="translate(433.0,369.4)">
<circle cx="0" cy="0" r="10.2" fill="none" stroke="#000" stroke-width="1.6"/>
<path d="M-5.5 9.6 L-11.1 19.3" stroke="#000" stroke-width="2.5" stroke-linecap="round" fill="none"/>
</g>
<g transform="translate(803.1,553.5)">
<circle cx="0" cy="0" r="10.2" fill="none" stroke="#000" stroke-width="1.6"/>
<path d="M-5.5 9.6 L-11.1 19.3" stroke="#000" stroke-width="2.5" stroke-linecap="round" fill="none"/>
</g>
<g transform="translate(223.1,703.5)">
<circle cx="0" cy="0" r="10.2" fill="none" stroke="#000" stroke-width="1.6"/>
<path d="M-5.5 9.6 L-11.1 19.3" stroke="#000" stroke-width="2.5" stroke-linecap="round" fill="none"/>
</g>
</svg>
</body>
</html>
